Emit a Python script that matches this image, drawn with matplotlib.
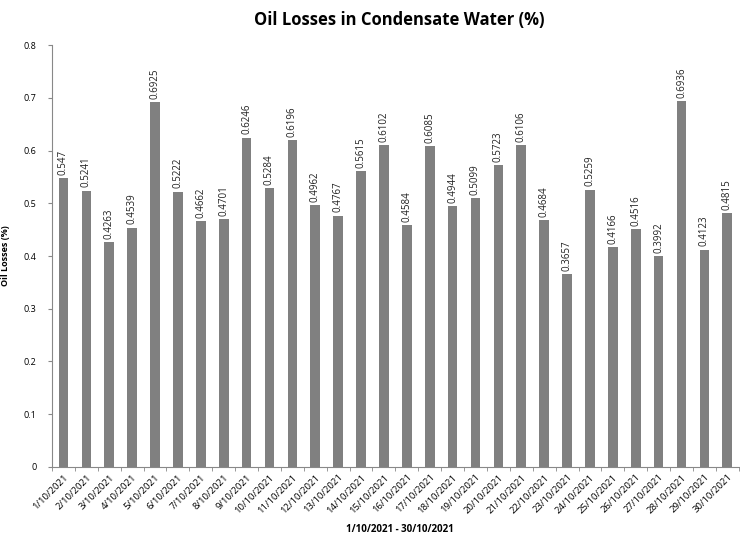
import numpy as np
import matplotlib.pyplot as plt

plt.rcParams['font.family'] = ['Open Sans', 'DejaVu Sans']

# ---- data ----
dates = [f'{d}/10/2021' for d in range(1, 31)]
losses = [0.547, 0.5241, 0.4263, 0.4539, 0.6925, 0.5222, 0.4662, 0.4701,
          0.6246, 0.5284, 0.6196, 0.4962, 0.4767, 0.5615, 0.6102, 0.4584,
          0.6085, 0.4944, 0.5099, 0.5723, 0.6106, 0.4684, 0.3657, 0.5259,
          0.4166, 0.4516, 0.3992, 0.6936, 0.4123, 0.4815]
yticks = [0, 0.1, 0.2, 0.3, 0.4, 0.5, 0.6, 0.7, 0.8]

fig = plt.figure(figsize=(7.4, 5.41), dpi=100)
fig.patch.set_facecolor('white')
ax = fig.add_axes([0.0703, 0.1368, 0.928, 0.78])

x = np.arange(len(dates))
ax.bar(x, losses, width=0.42, color='#808080', zorder=2)

for xi, v in zip(x, losses):
    ax.text(xi, v + 0.006, f'{v:g}', rotation=90, ha='center', va='bottom',
            fontsize=7, color='#222222')

ax.set_xlim(-0.5, len(dates) - 0.5)
ax.set_ylim(0, 0.8)
ax.set_yticks(yticks)
ax.set_yticklabels([f'{t:g}' for t in yticks], fontsize=6.5)

ax.set_xticks(x)
ax.set_xticklabels(dates, rotation=45, ha='right', rotation_mode='anchor',
                   fontsize=6.8)
ax.tick_params(axis='x', which='major', length=0, pad=4)
ax.set_xticks(np.arange(-0.5, len(dates), 1), minor=True)
ax.tick_params(axis='x', which='minor', length=3, color='#888888')
ax.tick_params(axis='y', length=3, color='#888888', pad=8)

for s in ['top', 'right']:
    ax.spines[s].set_visible(False)
ax.spines['left'].set_color('#888888')
ax.spines['bottom'].set_color('#888888')

ax.set_ylabel('Oil Losses (%)', fontsize=6.5, fontweight='bold', labelpad=10)
fig.text(0.54, 0.012, '1/10/2021 - 30/10/2021', ha='center', va='bottom',
         fontsize=7, fontweight='bold')
fig.text(0.54, 0.963, 'Oil Losses in Condensate Water (%)', ha='center',
         va='center', fontsize=12, fontweight='bold')

fig.savefig('out.png', dpi=100, facecolor='white')
